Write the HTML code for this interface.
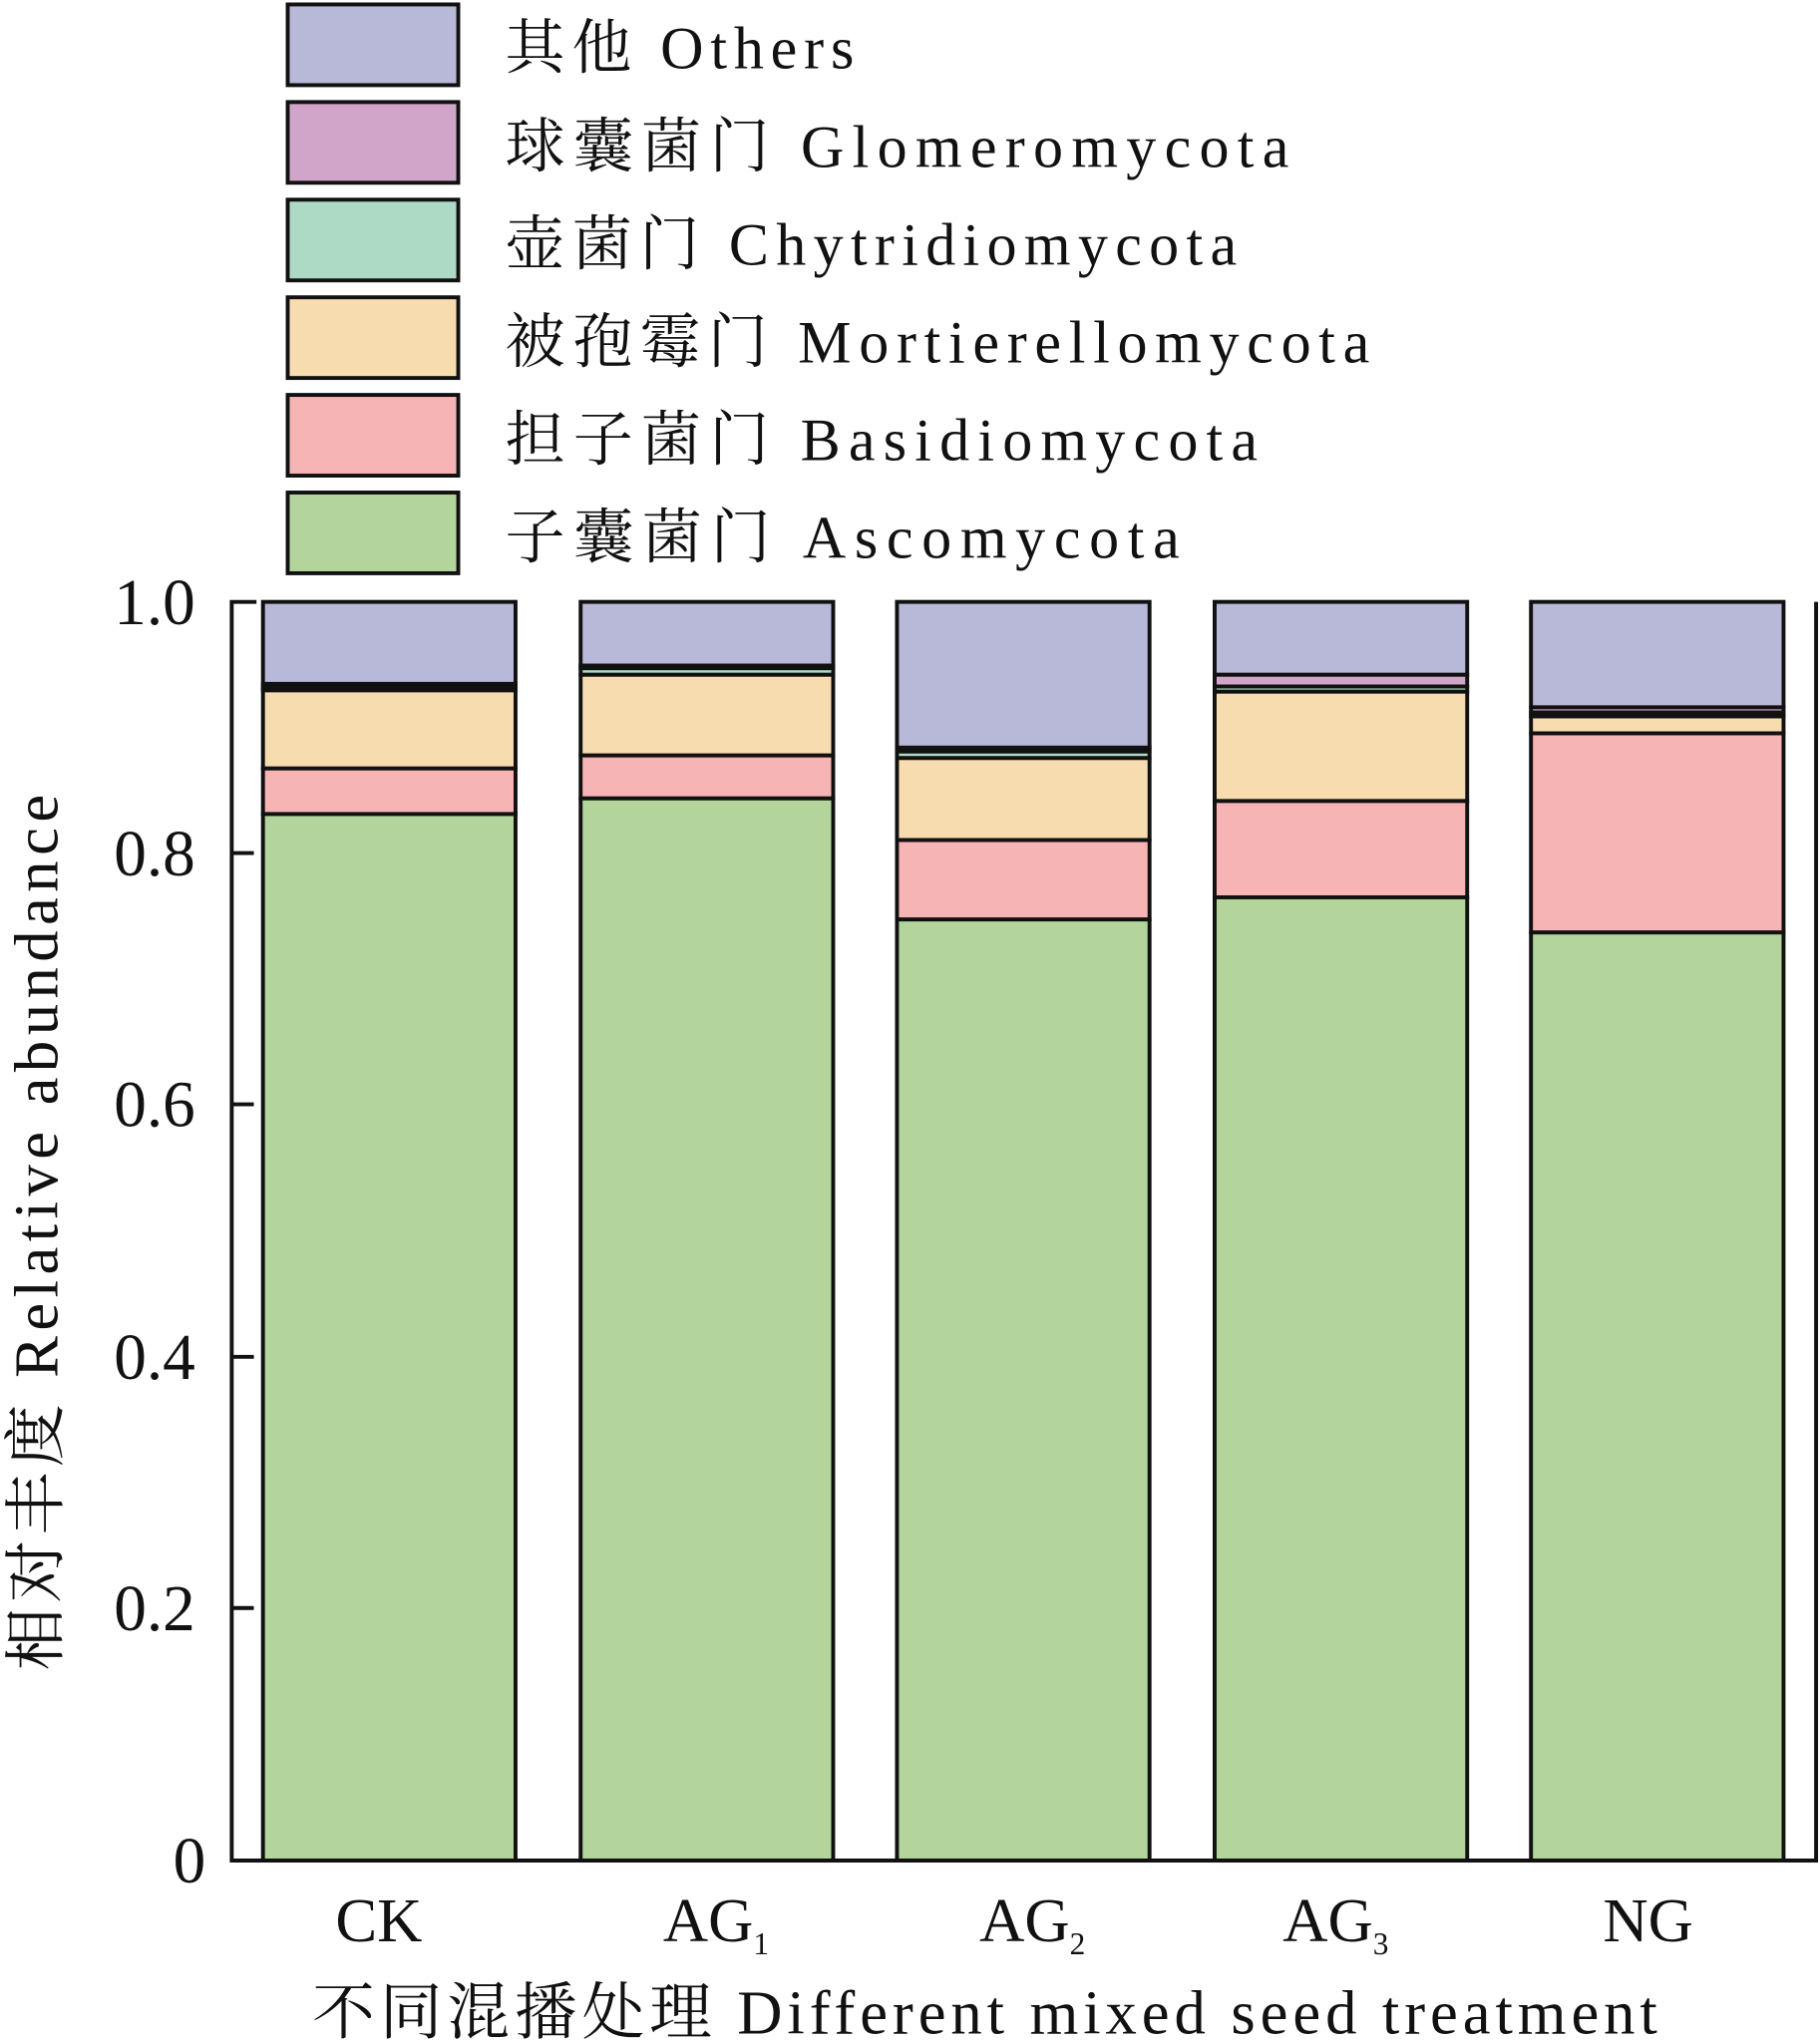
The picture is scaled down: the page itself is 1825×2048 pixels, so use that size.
<!DOCTYPE html>
<html><head><meta charset="utf-8"><style>html,body{margin:0;padding:0;background:#fff}svg{display:block}</style></head>
<body>
<svg width="1825" height="2048" viewBox="0 0 1398 1568" xmlns="http://www.w3.org/2000/svg" font-family="'Liberation Serif','Noto Serif CJK SC',serif" fill="#111">
<g stroke="#111" stroke-width="3">
<rect x="221" y="3" width="131" height="62" fill="#b8b8d8"/>
<rect x="221" y="78" width="131" height="62" fill="#d1a5c9"/>
<rect x="221" y="153" width="131" height="62" fill="#acdac4"/>
<rect x="221" y="228" width="131" height="62" fill="#f7dcb0"/>
<rect x="221" y="303" width="131" height="62" fill="#f7b4b4"/>
<rect x="221" y="378" width="131" height="62" fill="#b3d59b"/>
</g>
<g font-size="46">
<text x="388" y="52" textLength="268" lengthAdjust="spacing">其他 Others</text>
<text x="388" y="128" textLength="602" lengthAdjust="spacing">球囊菌门 Glomeromycota</text>
<text x="388" y="203" textLength="562" lengthAdjust="spacing">壶菌门 Chytridiomycota</text>
<text x="388" y="278" textLength="664" lengthAdjust="spacing">被孢霉门 Mortierellomycota</text>
<text x="388" y="353" textLength="578" lengthAdjust="spacing">担子菌门 Basidiomycota</text>
<text x="388" y="428" textLength="518" lengthAdjust="spacing">子囊菌门 Ascomycota</text>
</g>
<g stroke="#111" stroke-width="3">
<rect x="202" y="462" width="194" height="63" fill="#b8b8d8"/>
<rect x="202" y="525" width="194" height="3" fill="#d1a5c9"/>
<rect x="202" y="528" width="194" height="2" fill="#acdac4"/>
<rect x="202" y="530" width="194" height="60" fill="#f7dcb0"/>
<rect x="202" y="590" width="194" height="35" fill="#f7b4b4"/>
<rect x="202" y="625" width="194" height="804" fill="#b3d59b"/>
<rect x="446" y="462" width="194" height="49" fill="#b8b8d8"/>
<rect x="446" y="511" width="194" height="2" fill="#d1a5c9"/>
<rect x="446" y="513" width="194" height="5" fill="#acdac4"/>
<rect x="446" y="518" width="194" height="62" fill="#f7dcb0"/>
<rect x="446" y="580" width="194" height="33" fill="#f7b4b4"/>
<rect x="446" y="613" width="194" height="816" fill="#b3d59b"/>
<rect x="689" y="462" width="194" height="112" fill="#b8b8d8"/>
<rect x="689" y="574" width="194" height="3" fill="#d1a5c9"/>
<rect x="689" y="577" width="194" height="5" fill="#acdac4"/>
<rect x="689" y="582" width="194" height="63" fill="#f7dcb0"/>
<rect x="689" y="645" width="194" height="61" fill="#f7b4b4"/>
<rect x="689" y="706" width="194" height="723" fill="#b3d59b"/>
<rect x="933" y="462" width="194" height="56" fill="#b8b8d8"/>
<rect x="933" y="518" width="194" height="9" fill="#d1a5c9"/>
<rect x="933" y="527" width="194" height="4" fill="#acdac4"/>
<rect x="933" y="531" width="194" height="84" fill="#f7dcb0"/>
<rect x="933" y="615" width="194" height="74" fill="#f7b4b4"/>
<rect x="933" y="689" width="194" height="740" fill="#b3d59b"/>
<rect x="1176" y="462" width="194" height="81" fill="#b8b8d8"/>
<rect x="1176" y="543" width="194" height="4" fill="#d1a5c9"/>
<rect x="1176" y="547" width="194" height="3" fill="#acdac4"/>
<rect x="1176" y="550" width="194" height="13" fill="#f7dcb0"/>
<rect x="1176" y="563" width="194" height="153" fill="#f7b4b4"/>
<rect x="1176" y="716" width="194" height="713" fill="#b3d59b"/>
</g>
<g stroke="#111" stroke-width="3" fill="none">
<path d="M197 462H178V1429H1395V462"/>
<path d="M178 655H195M178 848H195M178 1042H195M178 1235H195"/>
</g>
<g font-size="50" text-anchor="end">
<text x="150" y="479">1.0</text>
<text x="150" y="672">0.8</text>
<text x="150" y="865">0.6</text>
<text x="150" y="1059">0.4</text>
<text x="150" y="1252">0.2</text>
<text x="158" y="1446">0</text>
</g>
<g font-size="48" text-anchor="middle">
<text x="291" y="1491">CK</text>
<text x="550" y="1491">AG<tspan font-size="24" dy="10">1</tspan></text>
<text x="793" y="1491">AG<tspan font-size="24" dy="10">2</tspan></text>
<text x="1026" y="1491">AG<tspan font-size="24" dy="10">3</tspan></text>
<text x="1266" y="1491">NG</text>
</g>
<text x="240" y="1562" font-size="48" textLength="1033" lengthAdjust="spacing">不同混播处理 Different mixed seed treatment</text>
<text transform="translate(44,1283) rotate(-90)" font-size="48" textLength="673" lengthAdjust="spacing">相对丰度 Relative abundance</text>
</svg>
</body></html>
